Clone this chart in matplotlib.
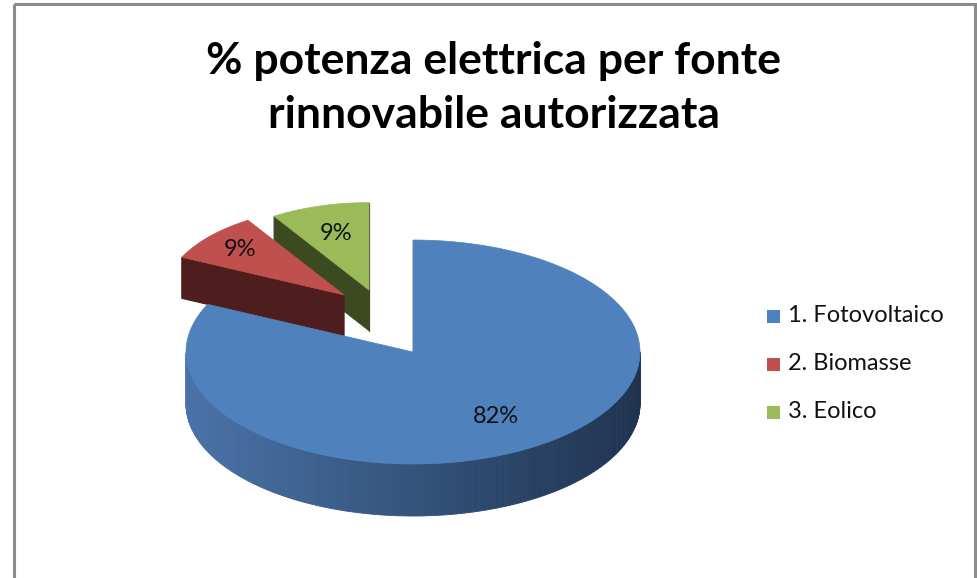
import numpy as np
import matplotlib.pyplot as plt
from matplotlib.patches import Polygon, Rectangle

# ---------------------------
# Data
# ---------------------------

labels = ["1. Fotovoltaico", "2. Biomasse", "3. Eolico"]
values = [82, 9, 9]
pct_labels = ["82%", "9%", "9%"]

top_colors = ["#4F81BD", "#C0504D", "#9BBB59"]
face_colors = ["#1F3350", "#4E1D1D", "#3C4A22"]
wall_left = (0.29, 0.45, 0.66)
wall_right = (0.12, 0.20, 0.31)

# pull-out of the slices (fraction of radius, direction in degrees) and depth scale
explode = [0.0, 0.593, 0.587]
explode_dir = [0.0, 120.8, 109.3]
persp = [1.0, 0.79, 0.78]
label_r = [0.68, 0.77, 0.67]

# pie geometry in pixel coords
CX, CY = 413, 352
A, B = 227, 112
DEPTH = 52

plt.rcParams["font.family"] = ["Lato", "DejaVu Sans"]

fig = plt.figure(figsize=(9.78, 5.78), dpi=100)
ax = fig.add_axes([0, 0, 1, 1])
ax.set_xlim(0, 978)
ax.set_ylim(578, 0)
ax.axis("off")


def pt(cx, cy, a, b, th):
    t = np.radians(th)
    return cx + a * np.cos(t), cy - b * np.sin(t)


# slice angles: start at 12 o'clock, clockwise
spans = []
start = 90.0
for v in values:
    end = start - v * 3.6
    spans.append((end, start))
    start = end

# draw back slices first, front (largest) last
order = [2, 1, 0]
for i in order:
    lo, hi = spans[i]
    s = persp[i]
    a, b, d = A * s, B * s, DEPTH * s
    ex = explode[i]
    cx = CX + ex * A * np.cos(np.radians(explode_dir[i]))
    cy = CY - ex * B * np.sin(np.radians(explode_dir[i]))

    # radial side faces facing the viewer
    for edge, normal in ((hi, hi + 90), (lo, lo - 90)):
        if np.sin(np.radians(normal)) <= 1e-6:
            px, py = pt(cx, cy, a, b, edge)
            poly = [(cx, cy), (px, py), (px, py + d), (cx, cy + d)]
            ax.add_patch(Polygon(poly, closed=True, facecolor=face_colors[i],
                                 edgecolor=face_colors[i], lw=0.8))

    # outer curved wall (front half only), shaded left to right
    ths = np.linspace(lo, hi, 300)
    for k in range(len(ths) - 1):
        t0, t1 = ths[k], ths[k + 1]
        if np.sin(np.radians((t0 + t1) / 2)) > 0:
            continue
        x0, y0 = pt(cx, cy, a, b, t0)
        x1, y1 = pt(cx, cy, a, b, t1)
        f = (1 + np.cos(np.radians((t0 + t1) / 2))) / 2
        col = tuple(wall_left[j] + (wall_right[j] - wall_left[j]) * f for j in range(3))
        ax.add_patch(Polygon([(x0, y0), (x1, y1), (x1, y1 + d), (x0, y0 + d)],
                             closed=True, facecolor=col, edgecolor=col, lw=0.6))

    # top face
    xs, ys = pt(cx, cy, a, b, np.linspace(lo, hi, 200))
    poly = [(cx, cy)] + list(zip(xs, ys))
    ax.add_patch(Polygon(poly, closed=True, facecolor=top_colors[i],
                         edgecolor=top_colors[i], lw=0.5))

    # data label
    mid = (lo + hi) / 2
    lx, ly = pt(cx, cy, a * label_r[i], b * label_r[i], mid)
    ax.text(lx, ly, pct_labels[i], ha="center", va="center",
            fontsize=17, color="#111111")

# title
ax.text(494, 88, "% potenza elettrica per fonte\nrinnovabile autorizzata",
        ha="center", va="center", fontsize=32, fontweight="bold",
        linespacing=1.45, color="black")

# legend
for k, (lab, col) in enumerate(zip(labels, top_colors)):
    y = 316 + k * 48
    ax.add_patch(Rectangle((767, y - 6.5), 13, 13, facecolor=col, edgecolor="none"))
    ax.text(788, y, lab, ha="left", va="center", fontsize=17, color="#111111")

# chart frame
ax.add_patch(Rectangle((14, 4), 961, 600, facecolor="none",
                       edgecolor="#8c8c8c", lw=2.2))

fig.savefig("out.png", dpi=100)
